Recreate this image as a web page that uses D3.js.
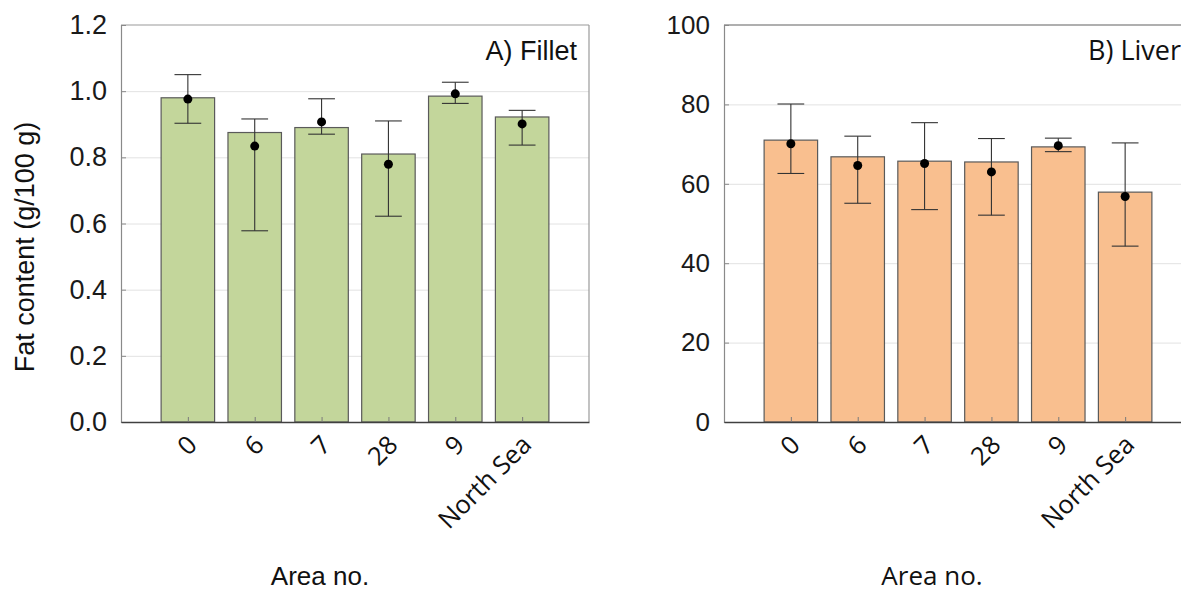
<!DOCTYPE html>
<html>
<head>
<meta charset="utf-8">
<script src="https://cdn.jsdelivr.net/npm/d3@7"></script>
<style>
  body { margin: 0; background: #fff; }
  svg { display: block; }
</style>
</head>
<body>
<svg id="chart" width="1181" height="592"></svg>
<script>
/** Area labels shared by both panels */
var areas = ["0", "6", "7", "28", "9", "North Sea"];

/** A) Fillet, g/100 g */
var filletBar = [0.98, 0.875, 0.89, 0.81, 0.985, 0.922];
var filletDot = [0.976, 0.834, 0.907, 0.779, 0.992, 0.901];
var filletHi  = [1.05, 0.916, 0.977, 0.910, 1.027, 0.942];
var filletLo  = [0.903, 0.578, 0.870, 0.622, 0.963, 0.837];
var filletTicks = [0, 0.2, 0.4, 0.6, 0.8, 1.0, 1.2];

/** B) Liver, g/100 g */
var liverBar = [71.0, 66.8, 65.7, 65.5, 69.3, 57.9];
var liverDot = [70.1, 64.6, 65.1, 63.0, 69.6, 56.8];
var liverHi  = [80.1, 72.0, 75.4, 71.4, 71.5, 70.3];
var liverLo  = [62.6, 55.1, 53.5, 52.1, 68.1, 44.3];
var liverTicks = [0, 20, 40, 60, 80, 100];

var plotTop = 25,
    plotBottom = 422,
    plotWidth = 468;

var svg = d3.select("#chart");

function drawPanel(opt) {
    var x = d3.scaleLinear().domain([0, 7]).range([opt.left, opt.left + plotWidth]);
    var y = d3.scaleLinear().domain([0, opt.max]).range([plotBottom, plotTop]);
    var barW = x(0.8) - x(0);
    var capW = x(0.4) - x(0);

    var g = svg.append("g");

    // gridlines
    g.append("g")
        .attr("transform", "translate(" + opt.left + ",0)")
        .call(d3.axisLeft(y).tickValues(opt.ticks.slice(1, -1)).tickSize(-plotWidth).tickFormat(""))
        .call(function (s) {
            s.select(".domain").remove();
            s.selectAll("line").attr("stroke", "#e2e2e2").attr("stroke-width", 1);
        });

    // frame (top + right)
    g.append("line")
        .attr("x1", opt.left).attr("x2", opt.left + plotWidth)
        .attr("y1", plotTop).attr("y2", plotTop)
        .attr("stroke", opt.frameTop).attr("stroke-width", 1.2);
    g.append("line")
        .attr("x1", opt.left + plotWidth).attr("x2", opt.left + plotWidth)
        .attr("y1", plotTop).attr("y2", plotBottom)
        .attr("stroke", "#9a9a9a").attr("stroke-width", 1.2);

    var idx = d3.range(areas.length);

    // bars
    g.selectAll("rect.bar")
        .data(idx)
        .enter()
        .append("rect")
        .attr("class", "bar")
        .attr("x", function (i) { return x(i + 1) - barW / 2; })
        .attr("y", function (i) { return y(opt.bar[i]); })
        .attr("width", barW)
        .attr("height", function (i) { return y(0) - y(opt.bar[i]); })
        .attr("fill", opt.fill)
        .attr("stroke", "#5a5a5a")
        .attr("stroke-width", 1.2);

    // error bars
    var eb = g.selectAll("g.err")
        .data(idx)
        .enter()
        .append("g")
        .attr("class", "err")
        .attr("stroke", "#333")
        .attr("stroke-width", 1.1);
    eb.append("line")
        .attr("x1", function (i) { return x(i + 1); })
        .attr("x2", function (i) { return x(i + 1); })
        .attr("y1", function (i) { return y(opt.lo[i]); })
        .attr("y2", function (i) { return y(opt.hi[i]); });
    eb.append("line")
        .attr("x1", function (i) { return x(i + 1) - capW / 2; })
        .attr("x2", function (i) { return x(i + 1) + capW / 2; })
        .attr("y1", function (i) { return y(opt.hi[i]); })
        .attr("y2", function (i) { return y(opt.hi[i]); });
    eb.append("line")
        .attr("x1", function (i) { return x(i + 1) - capW / 2; })
        .attr("x2", function (i) { return x(i + 1) + capW / 2; })
        .attr("y1", function (i) { return y(opt.lo[i]); })
        .attr("y2", function (i) { return y(opt.lo[i]); });

    // mean dots
    g.selectAll("circle.dot")
        .data(idx)
        .enter()
        .append("circle")
        .attr("class", "dot")
        .attr("cx", function (i) { return x(i + 1); })
        .attr("cy", function (i) { return y(opt.dot[i]); })
        .attr("r", 4.5)
        .attr("fill", "#000");

    // y axis
    g.append("g")
        .attr("transform", "translate(" + opt.left + ",0)")
        .call(d3.axisLeft(y).tickValues(opt.ticks).tickSize(-5).tickPadding(14).tickFormat(opt.fmt))
        .call(function (s) {
            s.select(".domain").attr("stroke", "#8a8a8a").attr("stroke-width", 1.2);
            s.selectAll(".tick line").attr("stroke", "#8a8a8a");
            s.selectAll("text")
                .attr("font-family", "Liberation Sans, Arial, sans-serif")
                .attr("font-size", opt.tickSize)
                .attr("fill", "#1a1a1a");
        });

    // x axis
    var xa = g.append("g")
        .attr("transform", "translate(0," + plotBottom + ")")
        .call(d3.axisBottom(x).tickValues(idx.map(function (i) { return i + 1; }))
            .tickSize(-5).tickSizeOuter(0)
            .tickFormat(function (v) { return areas[v - 1]; }));
    xa.select(".domain").attr("stroke", "#404040").attr("stroke-width", 1.4);
    xa.selectAll(".tick line").attr("stroke", "#7a7a7a");
    xa.selectAll(".tick text")
        .attr("font-family", "Open Sans, sans-serif")
        .attr("font-size", 25.5)
        .attr("fill", "#111")
        .attr("text-anchor", "end")
        .attr("x", 0)
        .attr("y", 0)
        .attr("dy", "0.35em")
        .attr("transform", "translate(4,18) rotate(-45)");

    // panel label
    g.append("text")
        .attr("x", opt.labelX)
        .attr("y", 60)
        .attr("text-anchor", opt.labelAnchor)
        .attr("font-family", opt.labelFont)
        .attr("font-size", 27)
        .attr("fill", "#111")
        .text(opt.label);

    // x title
    g.append("text")
        .attr("x", opt.titleX)
        .attr("y", 585)
        .attr("text-anchor", "middle")
        .attr("font-family", opt.titleFont)
        .attr("font-size", 26)
        .attr("fill", "#111")
        .text("Area no.");
}

drawPanel({
    left: 121, max: 1.2, ticks: filletTicks, fmt: d3.format(".1f"),
    bar: filletBar, dot: filletDot, hi: filletHi, lo: filletLo,
    fill: "#c3d69b", frameTop: "#9a9a9a", tickSize: 27,
    label: "A) Fillet", labelX: 577, labelAnchor: "end", labelFont: "Liberation Sans, Arial, sans-serif",
    titleX: 320, titleFont: "Liberation Sans, Arial, sans-serif"
});

drawPanel({
    left: 724, max: 100, ticks: liverTicks, fmt: d3.format("d"),
    bar: liverBar, dot: liverDot, hi: liverHi, lo: liverLo,
    fill: "#f9bf8f", frameTop: "#606060", tickSize: 26,
    label: "B) Liver", labelX: 1088, labelAnchor: "start", labelFont: "Open Sans, sans-serif",
    titleX: 932, titleFont: "Open Sans, sans-serif"
});

// y title (left panel only)
svg.append("text")
    .attr("transform", "translate(34,247) rotate(-90)")
    .attr("text-anchor", "middle")
    .attr("font-family", "Liberation Sans, Arial, sans-serif")
    .attr("font-size", 27)
    .attr("fill", "#111")
    .text("Fat content (g/100 g)");
</script>
</body>
</html>
